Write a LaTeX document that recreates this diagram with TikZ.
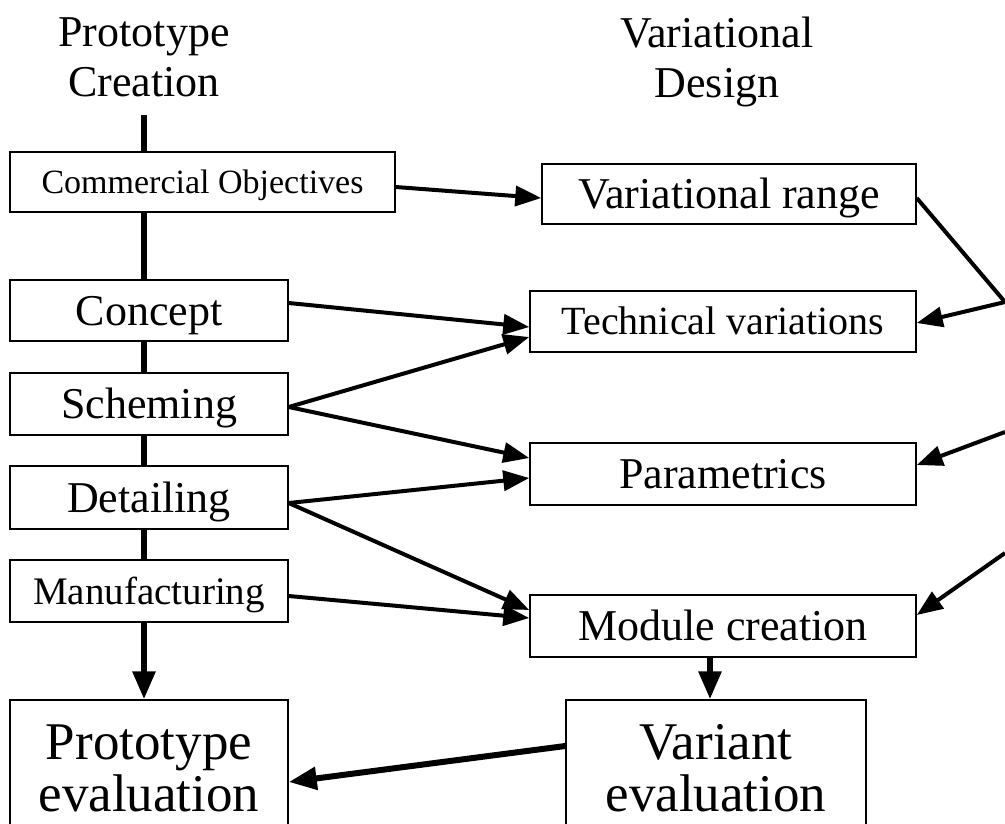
\documentclass[tikz,border=0pt]{standalone}
\usepackage{fontspec}
\setmainfont{Liberation Serif}
\usetikzlibrary{arrows.meta,backgrounds}

\tikzset{
  head/.style={align=center,font=\fontsize{44}{50}\selectfont,text depth=0pt},
  stagebox/.style={draw,line width=1.5pt,fill=white,inner sep=0pt,
    font=\fontsize{44}{50}\selectfont,text height=29pt,text depth=0pt},
  evalbox/.style={draw,line width=1.5pt,fill=white,inner sep=0pt,align=center,
    minimum height=136pt,font=\fontsize{53}{52}\selectfont},
  flow/.style={line width=4pt,->},
  bigflow/.style={line width=6pt,-{Triangle[length=28pt,width=22pt]}}
}

\begin{document}
\begin{tikzpicture}[x=1pt,y=-1pt,>={Triangle[length=26pt,width=20pt]}]
 \begin{scope}
  \clip (0,0) rectangle (1005,823);
  % column headings
  \node[head] (protohead) at (144,57.5) {Prototype\\Creation};
  \node[head] (varhead) at (717,57.5) {Variational\\Design};
  % prototype creation
  \node[stagebox,minimum width=385pt,minimum height=60pt,
        font=\fontsize{34}{40}\selectfont,text height=22pt] (comm) at (202.5,182) {Commercial Objectives};
  \node[stagebox,minimum width=278pt,minimum height=61pt] (concept) at (149,310.5) {Concept};
  \node[stagebox,minimum width=278pt,minimum height=62pt] (scheme) at (149,404) {Scheming};
  \node[stagebox,minimum width=278pt,minimum height=63pt] (detail) at (149,497.5) {Detailing};
  \node[stagebox,minimum width=278pt,minimum height=62pt,
        font=\fontsize{39}{45}\selectfont,text height=26pt] (manuf) at (149,591) {Manufacturing};
  % variational design
  \node[stagebox,minimum width=374pt,minimum height=60pt] (varrange) at (729,194) {Variational range};
  \node[stagebox,minimum width=386pt,minimum height=61pt,
        font=\fontsize{40}{46}\selectfont,text height=26.5pt] (techvar) at (723,321.5) {Technical variations};
  \node[stagebox,minimum width=386pt,minimum height=62pt] (param) at (723,474) {Parametrics};
  \node[stagebox,minimum width=386pt,minimum height=62pt] (module) at (723,626) {Module creation};
  % evaluation
  \node[evalbox,minimum width=278pt] (protoeval) at (149,768) {Prototype\\evaluation};
  \node[evalbox,minimum width=300pt] (vareval) at (716,768) {Variant\\evaluation};
  % spine behind the boxes
  \coordinate (spinetop) at (144,115);
  \begin{scope}[on background layer]
    \draw[bigflow] (spinetop) -- (spinetop |- protoeval.north);
  \end{scope}
  % links across
  \draw[flow] ([yshift=-5pt]comm.east) -- ([yshift=-4pt]varrange.west);
  \draw[flow] ([yshift=7.5pt]concept.east) -- ([yshift=-5.5pt]techvar.west);
  \draw[flow] ([yshift=-3pt]scheme.east) -- ([yshift=-15.5pt]techvar.west);
  \draw[flow] ([yshift=-3pt]scheme.east) -- ([yshift=16pt]param.west);
  \draw[flow] ([yshift=-5.5pt]detail.east) -- ([yshift=-4pt]param.west);
  \draw[flow] ([yshift=-5.5pt]detail.east) -- ([yshift=16pt]module.west);
  \draw[flow] ([yshift=-5pt]manuf.east) -- ([yshift=8pt]module.west);
  % feedback down the right edge
  \coordinate (rtop) at (1005,302);
  \coordinate (rmid) at (1005,432);
  \coordinate (rlow) at (1005,553);
  \draw[line width=4pt] ([yshift=-4pt]varrange.east) -- (rtop);
  \draw[flow] (rtop) -- ([yshift=-1.5pt]techvar.east);
  \draw[flow] (rmid) -- ([yshift=9pt]param.east);
  \draw[flow] (rlow) -- ([yshift=11pt]module.east);
  % to the evaluations
  \draw[bigflow] ([xshift=-6pt]vareval.north |- module.south) -- ([xshift=-6pt]vareval.north);
  \draw[bigflow] ([yshift=22pt]vareval.west) -- ([yshift=-14pt]protoeval.east);
 \end{scope}
 \pgfresetboundingbox
 \useasboundingbox (0,0) rectangle (1005,823);
\end{tikzpicture}
\end{document}
